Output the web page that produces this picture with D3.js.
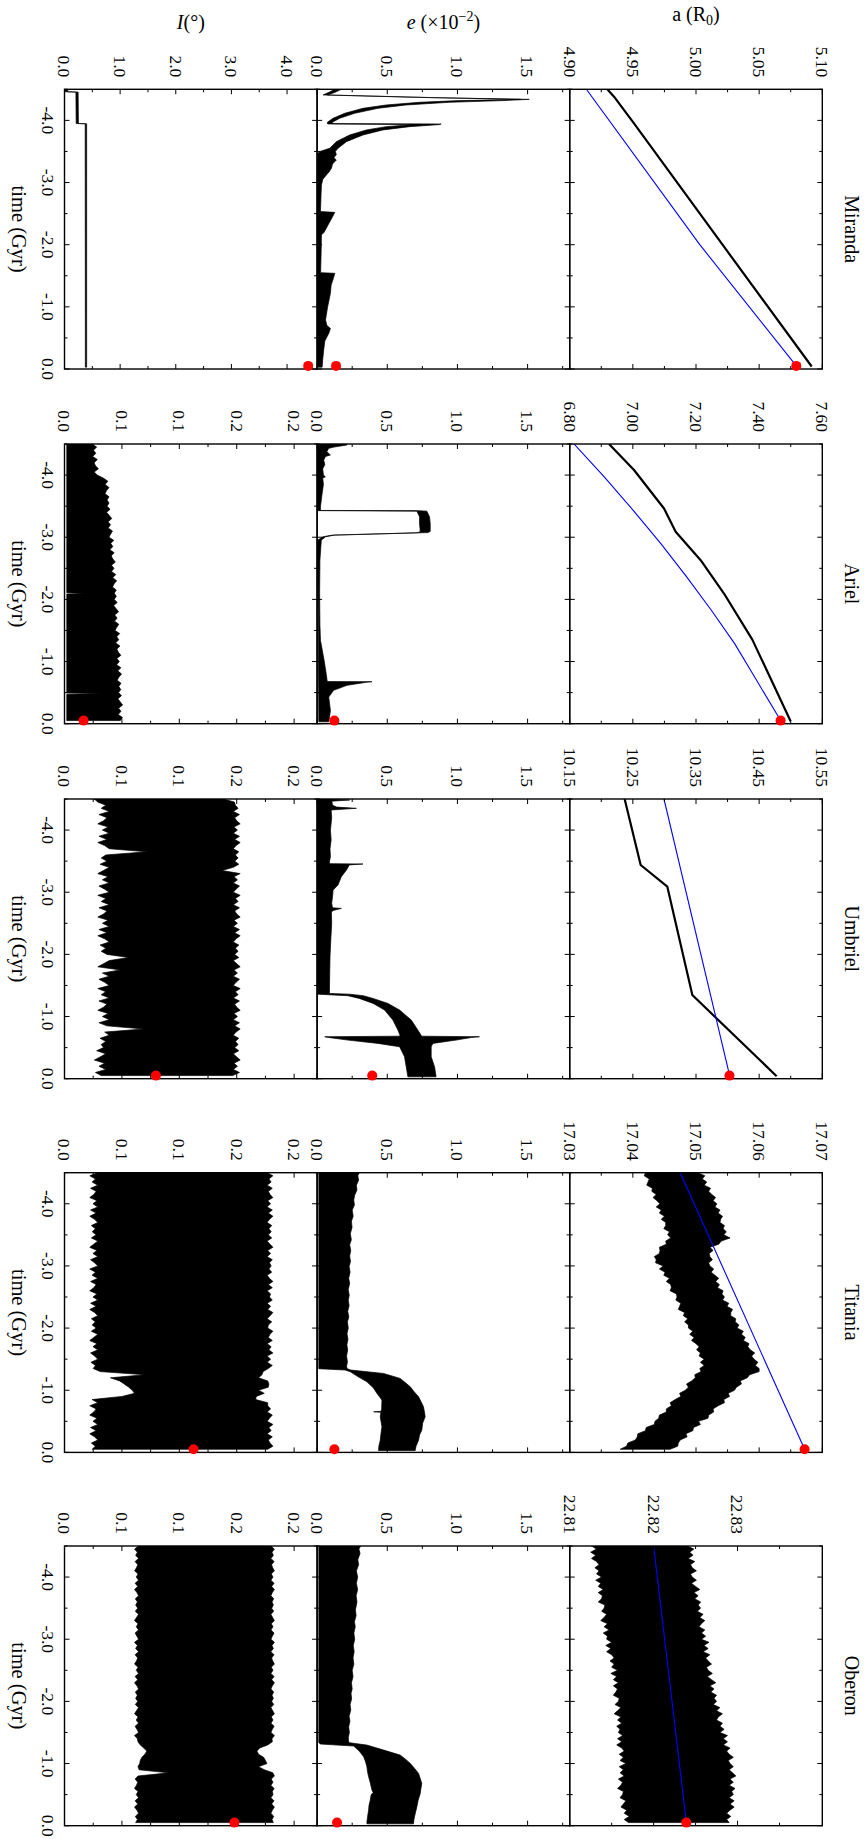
<!DOCTYPE html>
<html>
<head>
<meta charset="utf-8">
<script src="https://cdn.jsdelivr.net/npm/d3@7"></script>
<style>
  html, body { margin: 0; padding: 0; background: #fff; }
  svg { display: block; }
</style>
</head>
<body>
<svg id="fig" width="868" height="1839"></svg>
<script>
// ---------------------------------------------------------------------------
// Orbital evolution of the five major Uranian satellites over the last 4.5 Gyr:
// semi-major axis a (in R0), eccentricity e (x10^-2) and inclination I (deg).
// The figure is laid out in landscape (1839 x 868) and turned a quarter turn.
// ---------------------------------------------------------------------------

const moons = ["Miranda", "Ariel", "Umbriel", "Titania", "Oberon"];

// time axis (Gyr)
const timeDomain = [-4.5, 0];
const timeMajor = [-4, -3, -2, -1, 0];
const timeMinor = [-4.5, -3.5, -2.5, -1.5, -0.5];
const timeLabels = ["-4.0", "-3.0", "-2.0", "-1.0", "0.0"];
const presentTime = -0.05;

// semi-major axis axes
const aDomains = [[4.90, 5.10], [6.80, 7.60], [10.15, 10.55], [17.03, 17.07], [22.81, 22.8401]];
const aMajor = [
  [4.90, 4.95, 5.00, 5.05, 5.10],
  [6.80, 7.00, 7.20, 7.40, 7.60],
  [10.15, 10.25, 10.35, 10.45, 10.55],
  [17.03, 17.04, 17.05, 17.06, 17.07],
  [22.81, 22.82, 22.83]
];
const aMinor = [
  [4.925, 4.975, 5.025, 5.075],
  [6.90, 7.10, 7.30, 7.50],
  [10.20, 10.30, 10.40, 10.50],
  [17.035, 17.045, 17.055, 17.065],
  [22.815, 22.825, 22.835]
];
const aLabels = [
  ["4.90", "4.95", "5.00", "5.05", "5.10"],
  ["6.80", "7.00", "7.20", "7.40", "7.60"],
  ["10.15", "10.25", "10.35", "10.45", "10.55"],
  ["17.03", "17.04", "17.05", "17.06", "17.07"],
  ["22.81", "22.82", "22.83"]
];

// eccentricity axis (x10^-2), shared by all moons
const eDomain = [0, 1.8];
const eMajor = [0, 0.5, 1.0, 1.5];
const eMinor = [0.25, 0.75, 1.25, 1.75];
const eLabels = ["0.0", "0.5", "1.0", "1.5"];

// inclination axes (deg)
const iDomains = [[0, 4.54], [0, 0.22], [0, 0.22], [0, 0.22], [0, 0.22]];
const iMajorMiranda = [0, 1, 2, 3, 4];
const iMinorMiranda = [0.5, 1.5, 2.5, 3.5];
const iLabelsMiranda = ["0.0", "1.0", "2.0", "3.0", "4.0"];
const iMajorOuter = [0, 0.05, 0.10, 0.15, 0.20];
const iMinorOuter = [0.025, 0.075, 0.125, 0.175];
const iLabelsOuter = ["0.0", "0.1", "0.1", "0.2", "0.2"];

// present-day observed values (red markers)
const presentA = [5.0794, 7.468, 10.403, 17.0672, 22.8239];
const presentE = [0.135, 0.123, 0.393, 0.123, 0.142];
const presentI = [4.38, 0.0166, 0.0796, 0.1124, 0.148];

// sampling times of the densely oscillating envelopes (Gyr)
const noiseTimes = [
  -4.5, -4.45, -4.4, -4.35, -4.3, -4.25, -4.2, -4.15, -4.1, -4.05,
  -4.0, -3.95, -3.9, -3.85, -3.8, -3.75, -3.7, -3.65, -3.6, -3.55,
  -3.5, -3.45, -3.4, -3.35, -3.3, -3.25, -3.2, -3.15, -3.1, -3.05,
  -3.0, -2.95, -2.9, -2.85, -2.8, -2.75, -2.7, -2.65, -2.6, -2.55,
  -2.5, -2.45, -2.4, -2.35, -2.3, -2.25, -2.2, -2.15, -2.1, -2.05,
  -2.0, -1.95, -1.9, -1.85, -1.8, -1.75, -1.7, -1.65, -1.6, -1.55,
  -1.5, -1.45, -1.4, -1.35, -1.3, -1.25, -1.2, -1.15, -1.1, -1.05,
  -1.0, -0.95, -0.9, -0.85, -0.8, -0.75, -0.7, -0.65, -0.6, -0.55,
  -0.5, -0.45, -0.4, -0.35, -0.3, -0.25, -0.2, -0.15, -0.1, -0.05];

// ----- semi-major axis: simulated (black) and tidal-only (blue) tracks -----
const mirandaA = [[-4.5, 4.9298], [-4.382, 4.9351], [-3.953, 4.9509], [-2.0, 5.021], [-0.04, 5.0916]];
const mirandaTide = [[-4.5, 4.9132], [-2.0, 5.003], [presentTime, 5.0794]];

const arielA = [[-4.5, 6.9245], [-4.081, 7.0037], [-3.463, 7.0987], [-3.088, 7.1356], [-2.631, 7.2148],
  [-2.094, 7.2887], [-1.353, 7.3784], [-0.04, 7.4997]];
const arielTide = [[-4.5, 6.8137], [-3.974, 6.9087], [-3.437, 7.0005], [-2.9, 7.0881], [-2.363, 7.1704],
  [-1.826, 7.2486], [-1.288, 7.3224], [-0.751, 7.3857], [presentTime, 7.4681]];

const umbrielA = [[-4.5, 10.237], [-3.438, 10.2624], [-3.089, 10.3046], [-1.346, 10.3442], [-0.04, 10.4777]];
const umbrielTide = [[-4.5, 10.2993], [presentTime, 10.4033]];

const titaniaAUpper = [
  17.0503, 17.0514, 17.0510, 17.0517, 17.0513, 17.0523, 17.0520, 17.0525, 17.0531, 17.0527,
  17.0533, 17.0530, 17.0538, 17.0535, 17.0542, 17.0539, 17.0538, 17.0545, 17.0543, 17.0548,
  17.0544, 17.0554, 17.0540, 17.0536, 17.0522, 17.0527, 17.0521, 17.0522, 17.0526, 17.0520,
  17.0522, 17.0528, 17.0524, 17.0530, 17.0536, 17.0531, 17.0537, 17.0534, 17.0543, 17.0541,
  17.0545, 17.0542, 17.0552, 17.0549, 17.0558, 17.0555, 17.0555, 17.0563, 17.0562, 17.0568,
  17.0565, 17.0575, 17.0572, 17.0578, 17.0575, 17.0584, 17.0582, 17.0586, 17.0593, 17.0588,
  17.0592, 17.0598, 17.0594, 17.0600, 17.0600, 17.0585, 17.0581, 17.0570, 17.0572, 17.0564,
  17.0561, 17.0551, 17.0553, 17.0544, 17.0545, 17.0535, 17.0527, 17.0528, 17.0520, 17.0519,
  17.0504, 17.0507, 17.0496, 17.0495, 17.0484, 17.0486, 17.0475, 17.0472, 17.0471, 17.0459];
const titaniaALower = [
  17.0420, 17.0418, 17.0426, 17.0424, 17.0422, 17.0431, 17.0430, 17.0437, 17.0432, 17.0438,
  17.0443, 17.0437, 17.0445, 17.0442, 17.0450, 17.0445, 17.0452, 17.0452, 17.0449, 17.0458,
  17.0455, 17.0460, 17.0452, 17.0453, 17.0442, 17.0443, 17.0442, 17.0434, 17.0437, 17.0436,
  17.0448, 17.0442, 17.0451, 17.0449, 17.0458, 17.0453, 17.0460, 17.0461, 17.0459, 17.0469,
  17.0470, 17.0468, 17.0476, 17.0474, 17.0472, 17.0482, 17.0480, 17.0487, 17.0482, 17.0488,
  17.0488, 17.0495, 17.0490, 17.0497, 17.0493, 17.0500, 17.0505, 17.0501, 17.0507, 17.0505,
  17.0513, 17.0507, 17.0513, 17.0506, 17.0508, 17.0498, 17.0499, 17.0493, 17.0485, 17.0488,
  17.0483, 17.0474, 17.0476, 17.0467, 17.0459, 17.0461, 17.0453, 17.0453, 17.0442, 17.0441,
  17.0435, 17.0434, 17.0421, 17.0420, 17.0408, 17.0407, 17.0404, 17.0392, 17.0390, 17.0380];
const titaniaTide = [[-4.5, 17.0475], [presentTime, 17.0672]];

const oberonAUpper = [
  22.8240, 22.8248, 22.8243, 22.8247, 22.8241, 22.8249, 22.8244, 22.8246, 22.8251, 22.8244,
  22.8246, 22.8251, 22.8245, 22.8250, 22.8255, 22.8248, 22.8253, 22.8249, 22.8256, 22.8253,
  22.8256, 22.8252, 22.8259, 22.8255, 22.8261, 22.8257, 22.8254, 22.8261, 22.8257, 22.8262,
  22.8257, 22.8266, 22.8260, 22.8265, 22.8259, 22.8267, 22.8262, 22.8265, 22.8269, 22.8263,
  22.8265, 22.8270, 22.8264, 22.8269, 22.8274, 22.8267, 22.8272, 22.8268, 22.8275, 22.8272,
  22.8275, 22.8271, 22.8279, 22.8275, 22.8282, 22.8277, 22.8275, 22.8282, 22.8279, 22.8284,
  22.8279, 22.8288, 22.8283, 22.8288, 22.8283, 22.8291, 22.8287, 22.8290, 22.8295, 22.8289,
  22.8291, 22.8295, 22.8290, 22.8294, 22.8298, 22.8291, 22.8295, 22.8290, 22.8297, 22.8293,
  22.8295, 22.8290, 22.8296, 22.8291, 22.8296, 22.8291, 22.8287, 22.8292, 22.8287, 22.8290];
const oberonALower = [
  22.8126, 22.8132, 22.8125, 22.8131, 22.8126, 22.8132, 22.8135, 22.8130, 22.8135, 22.8132,
  22.8138, 22.8131, 22.8137, 22.8134, 22.8140, 22.8134, 22.8139, 22.8138, 22.8134, 22.8142,
  22.8141, 22.8138, 22.8144, 22.8141, 22.8137, 22.8145, 22.8141, 22.8147, 22.8140, 22.8145,
  22.8144, 22.8150, 22.8143, 22.8149, 22.8144, 22.8150, 22.8153, 22.8148, 22.8153, 22.8150,
  22.8157, 22.8149, 22.8156, 22.8152, 22.8158, 22.8152, 22.8157, 22.8155, 22.8152, 22.8159,
  22.8158, 22.8154, 22.8161, 22.8157, 22.8153, 22.8161, 22.8157, 22.8162, 22.8156, 22.8160,
  22.8158, 22.8163, 22.8157, 22.8162, 22.8156, 22.8162, 22.8165, 22.8159, 22.8164, 22.8160,
  22.8167, 22.8159, 22.8164, 22.8160, 22.8165, 22.8158, 22.8163, 22.8161, 22.8157, 22.8164,
  22.8163, 22.8160, 22.8167, 22.8164, 22.8161, 22.8168, 22.8165, 22.8171, 22.8165, 22.8170];
const oberonTide = [[-4.5, 22.82], [presentTime, 22.8239]];

// ----- eccentricity envelopes (upper / lower edge of the oscillation) -----
const mirandaEHi = [[-4.5,0.173],[-4.452,0.128],[-4.409,0.076],[-4.366,0.84],[-4.338,1.512],[-4.318,1.32],
  [-4.291,0.943],[-4.248,0.635],[-4.194,0.434],[-4.114,0.268],[-4.034,0.161],[-3.969,0.109],[-3.948,0.11],
  [-3.942,0.884],[-3.932,0.872],[-3.899,0.659],[-3.846,0.469],[-3.765,0.327],[-3.658,0.209],[-3.551,0.149],
  [-3.5,0.13],[-3.45,0.137],[-3.4,0.12],[-3.363,0.137],[-3.3,0.11],[-3.229,0.102],[-3.17,0.085],[-3.122,0.066],
  [-3.05,0.04],[-2.961,0.031],[-2.8,0.028],[-2.6,0.025],[-2.532,0.024],[-2.52,0.126],[-2.45,0.11],[-2.318,0.078],
  [-2.2,0.05],[-2.157,0.031],[-2.021,0.03],[-1.8,0.028],[-1.55,0.025],[-1.539,0.126],[-1.45,0.115],[-1.35,0.1],
  [-1.217,0.095],[-1.0,0.075],[-0.788,0.06],[-0.7,0.07],[-0.653,0.095],[-0.573,0.083],[-0.45,0.055],
  [-0.305,0.047],[-0.15,0.04],[-0.03,0.036]];
const mirandaELo = [[-4.5,0.126],[-4.452,0.085],[-4.409,0.043],[-4.366,0.80],[-4.338,1.45],[-4.318,1.01],
  [-4.291,0.73],[-4.248,0.493],[-4.194,0.327],[-4.114,0.197],[-4.034,0.114],[-3.969,0.073],[-3.948,0.073],
  [-3.942,0.08],[-3.932,0.683],[-3.899,0.493],[-3.846,0.351],[-3.765,0.232],[-3.658,0.137],[-3.551,0.09],
  [-3.5,0.02],[-3.47,0.006],[-0.03,0.004]];

const arielEHi = [[-4.5,0.21],[-4.484,0.213],[-4.45,0.12],[-4.43,0.083],[-4.38,0.07],[-4.34,0.085],[-4.323,0.095],
  [-4.3,0.06],[-4.242,0.047],[-4.17,0.055],[-4.1,0.04],[-4.0,0.045],[-3.974,0.059],[-3.95,0.04],[-3.85,0.045],
  [-3.705,0.036],[-3.6,0.03],[-3.49,0.024],[-3.431,0.024],[-3.428,0.723],[-3.42,0.782],[-3.329,0.801],
  [-3.222,0.806],[-3.093,0.806],[-3.075,0.79],[-3.071,0.735],[-3.034,0.125],[-3.007,0.06],[-2.953,0.03],
  [-2.631,0.02],[-2.094,0.018],[-1.6,0.02],[-1.342,0.024],[-1.02,0.05],[-0.8,0.065],[-0.698,0.071],
  [-0.678,0.075],[-0.676,0.391],[-0.666,0.35],[-0.617,0.213],[-0.537,0.118],[-0.429,0.083],[-0.3,0.09],
  [-0.214,0.095],[-0.1,0.088],[-0.03,0.083]];
const arielELo = [[-4.5,0.005],[-3.428,0.005],[-3.42,0.711],[-3.329,0.73],[-3.222,0.73],[-3.093,0.735],
  [-3.075,0.72],[-3.071,0.70],[-3.034,0.11],[-3.007,0.04],[-2.953,0.005],[-0.03,0.012]];

const umbrielEHi = [[-4.5,0.09],[-4.484,0.232],[-4.465,0.105],[-4.4,0.11],[-4.37,0.14],[-4.35,0.28],[-4.323,0.1],
  [-4.2,0.104],[-4.108,0.1],[-4.0,0.095],[-3.84,0.1],[-3.7,0.092],[-3.572,0.095],[-3.491,0.088],[-3.46,0.09],
  [-3.454,0.327],[-3.44,0.23],[-3.357,0.209],[-3.25,0.173],[-3.18,0.16],[-3.116,0.149],[-3.035,0.114],
  [-2.93,0.11],[-2.821,0.104],[-2.75,0.11],[-2.74,0.173],[-2.71,0.12],[-2.687,0.102],[-2.499,0.104],
  [-2.25,0.098],[-1.962,0.092],[-1.7,0.09],[-1.426,0.088],[-1.372,0.088],[-1.36,0.232],[-1.335,0.33],
  [-1.292,0.398],[-1.211,0.505],[-1.104,0.588],[-0.943,0.671],[-0.782,0.718],[-0.702,0.74],[-0.684,0.745],
  [-0.675,1.157],[-0.664,1.10],[-0.621,0.99],[-0.568,0.825],[-0.514,0.813],[-0.353,0.813],[-0.192,0.837],[-0.03,0.848]];
const umbrielELo = [[-4.5,0.005],[-1.36,0.005],[-1.335,0.22],[-1.292,0.30],[-1.211,0.40],[-1.104,0.481],
  [-0.943,0.54],[-0.782,0.576],[-0.702,0.59],[-0.684,0.59],[-0.675,0.0545],[-0.664,0.08],[-0.621,0.22],
  [-0.568,0.434],[-0.514,0.588],[-0.353,0.623],[-0.192,0.635],[-0.03,0.647]];

const titaniaEHi = [[-4.5,0.30],[-4.45,0.29],[-4.38,0.296],[-4.3,0.28],[-4.22,0.284],[-4.14,0.268],[-4.06,0.261],
  [-3.98,0.266],[-3.9,0.25],[-3.8,0.257],[-3.72,0.245],[-3.62,0.249],[-3.52,0.237],[-3.42,0.244],[-3.34,0.232],
  [-3.25,0.24],[-3.16,0.232],[-3.07,0.238],[-2.99,0.228],[-2.9,0.235],[-2.8,0.225],[-2.72,0.232],[-2.62,0.222],
  [-2.53,0.229],[-2.45,0.222],[-2.36,0.228],[-2.27,0.218],[-2.18,0.226],[-2.1,0.216],[-2.0,0.222],[-1.91,0.213],
  [-1.82,0.22],[-1.73,0.212],[-1.65,0.218],[-1.55,0.21],[-1.46,0.216],[-1.38,0.21],[-1.346,0.215],[-1.325,0.24],
  [-1.27,0.474],[-1.19,0.592],[-1.12,0.63],[-1.056,0.664],[-0.98,0.69],[-0.895,0.723],[-0.82,0.74],[-0.734,0.758],
  [-0.65,0.765],[-0.573,0.77],[-0.47,0.752],[-0.358,0.746],[-0.28,0.73],[-0.197,0.723],[-0.1,0.705],[-0.03,0.699]];
const titaniaELo = [[-4.5,0.012],[-1.346,0.012],[-1.325,0.20],[-1.297,0.237],[-1.22,0.29],[-1.136,0.355],
  [-1.04,0.40],[-0.948,0.427],[-0.895,0.445],[-0.841,0.462],[-0.7,0.46],[-0.66,0.455],[-0.653,0.403],
  [-0.645,0.455],[-0.573,0.45],[-0.412,0.462],[-0.3,0.455],[-0.197,0.45],[-0.1,0.44],[-0.03,0.438]];

const oberonEHi = [[-4.5,0.31],[-4.45,0.298],[-4.38,0.306],[-4.28,0.29],[-4.2,0.296],[-4.1,0.28],[-4.0,0.289],
  [-3.9,0.28],[-3.8,0.289],[-3.7,0.278],[-3.6,0.284],[-3.47,0.273],[-3.38,0.278],[-3.28,0.266],[-3.2,0.272],
  [-3.1,0.262],[-3.0,0.268],[-2.9,0.258],[-2.8,0.264],[-2.7,0.256],[-2.6,0.262],[-2.5,0.25],[-2.4,0.256],
  [-2.3,0.245],[-2.2,0.25],[-2.13,0.242],[-2.04,0.246],[-1.95,0.235],[-1.86,0.24],[-1.76,0.228],[-1.68,0.234],
  [-1.59,0.225],[-1.5,0.23],[-1.42,0.222],[-1.351,0.225],[-1.335,0.23],[-1.297,0.355],[-1.217,0.474],
  [-1.136,0.592],[-1.07,0.63],[-1.002,0.664],[-0.92,0.695],[-0.841,0.723],[-0.76,0.735],[-0.68,0.746],
  [-0.6,0.74],[-0.519,0.735],[-0.41,0.72],[-0.305,0.711],[-0.2,0.70],[-0.1,0.69],[-0.03,0.687]];
const oberonELo = [[-4.5,0.012],[-1.335,0.012],[-1.314,0.024],[-1.281,0.261],[-1.2,0.30],[-1.109,0.332],
  [-1.03,0.345],[-0.948,0.355],[-0.86,0.36],[-0.788,0.367],[-0.68,0.38],[-0.573,0.391],[-0.53,0.40],
  [-0.5,0.385],[-0.412,0.379],[-0.33,0.37],[-0.251,0.367],[-0.15,0.36],[-0.063,0.355],[-0.03,0.355]];

// ----- inclination envelopes -----
const mirandaIHi = [[-4.5,0.06],[-4.46,0.06],[-4.455,0.245],[-3.95,0.25],[-3.945,0.398],[-0.03,0.398]];
const mirandaILo = [[-4.5,0.01],[-4.46,0.01],[-4.455,0.205],[-3.95,0.21],[-3.945,0.372],[-0.03,0.375]];

const arielIUpper = [
  .024, .028, .0252, .0273, .0245, .0286, .0258, .027, .0295, .0259,
  .0284, .034, .0378, .0353, .0388, .0366, .0353, .0388, .037, .0388,
  .037, .0397, .0367, .039, .0412, .0379, .0401, .038, .0418, .0401,
  .0387, .0429, .0403, .0421, .0395, .0433, .0407, .0421, .0443, .0409,
  .0431, .0409, .0447, .042, .0454, .0432, .0418, .0451, .0433, .0451,
  .0433, .0459, .0428, .045, .0471, .0437, .0458, .0436, .0473, .0455,
  .044, .0481, .0455, .0472, .0445, .0483, .0456, .0469, .0491, .0456,
  .0477, .0454, .0491, .0464, .0497, .0474, .0459, .0492, .0473, .049,
  .0471, .0496, .0465, .0486, .0506, .0471, .0492, .0468, .0505, .0486];
const arielILo = [[-4.5,0.002],[-2.105,0.002],[-2.095,0.018],[-2.085,0.002],[-0.495,0.002],[-0.485,0.034],
  [-0.475,0.002],[-0.05,0.002]];

const umbrielIUpper = [
  .1385, .148, .1488, .1512, .147, .1524, .1482, .150, .153, .1476,
  .1506, .147, .1524, .1482, .153, .1494, .147, .1518, .1488, .1512,
  .1482, .1518, .147, .1371, .153, .1476, .1506, .147, .1524, .1494,
  .147, .153, .1488, .1512, .147, .1524, .1482, .150, .153, .1476,
  .1506, .147, .1524, .1482, .153, .1494, .147, .1518, .1488, .1512,
  .1482, .1518, .147, .150, .153, .1476, .1506, .147, .1524, .1494,
  .147, .153, .1488, .1512, .147, .1524, .1482, .150, .153, .1476,
  .1506, .147, .1524, .1482, .153, .1494, .147, .1518, .1488, .1512,
  .1482, .1518, .147, .150, .153, .1476, .1506, .147, .1524, .1465];
const umbrielILower = [
  .026, .029, .036, .032, .039, .030, .037, .034, .029, .038,
  .033, .039, .030, .037, .029, .035, .039, .0717, .036, .032,
  .037, .031, .039, .034, .029, .038, .033, .039, .030, .035,
  .039, .029, .036, .032, .039, .030, .037, .034, .029, .038,
  .033, .039, .030, .037, .029, .035, .039, .031, .036, .032,
  .037, .0558, .039, .034, .029, .0485, .033, .039, .030, .035,
  .039, .029, .036, .032, .039, .030, .037, .034, .029, .038,
  .033, .039, .030, .037, .0688, .035, .039, .031, .036, .032,
  .034, .028, .036, .031, .026, .035, .030, .036, .027, .032];

const titaniaIUpper = [
  .1765, .1815, .1780, .1800, .1765, .1810, .1775, .1790, .1815, .1770,
  .1795, .1765, .1810, .1775, .1815, .1785, .1765, .1805, .1780, .1800,
  .1775, .1805, .1765, .1790, .1815, .1770, .1795, .1765, .1810, .1785,
  .1800, .1780, .1805, .1765, .1785, .1815, .1775, .1810, .1765, .1795,
  .1785, .1810, .1765, .1795, .1770, .1815, .1790, .1765, .1805, .1775,
  .1770, .1815, .1790, .1775, .1810, .1765, .1800, .1780, .1815, .1765,
  .1795, .1765, .1810, .1775, .1730, .1720, .1690, .1770, .1780, .1775,
  .1690, .1740, .1670, .1665, .1770, .1770, .1795, .1765, .1810, .1785,
  .1765, .1815, .1780, .1800, .1765, .1810, .1775, .1790, .1815, .1770];
const titaniaILower = [
  .029, .022, .027, .024, .029, .0227, .0276, .0255, .022, .0283,
  .0248, .029, .0227, .0276, .022, .0262, .029, .0234, .0269, .0241,
  .0276, .0234, .029, .0255, .022, .0283, .0248, .029, .0227, .0262,
  .029, .022, .027, .024, .029, .0227, .0276, .0255, .022, .0283,
  .0248, .029, .0227, .0276, .022, .0262, .029, .0234, .0269, .0241,
  .0276, .0234, .029, .0255, .022, .0283, .0248, .029, .0227, .0262,
  .029, .023, .027, .025, .031, .070, .040, .048, .052, .056,
  .059, .061, .050, .024, .029, .022, .0276, .0255, .022, .0283,
  .0248, .029, .0227, .0276, .022, .0262, .029, .0234, .0269, .0241];

const oberonIUpper = [
  .1798, .1828, .1807, .1819, .1798, .1825, .1804, .1813, .1828, .1801,
  .1816, .1798, .1825, .1804, .1828, .1810, .1798, .1822, .1807, .1819,
  .1804, .1822, .1798, .1813, .1828, .1801, .1816, .1798, .1825, .1810,
  .1798, .1828, .1807, .1819, .1798, .1825, .1804, .1813, .1828, .1801,
  .1816, .1798, .1825, .1804, .1828, .1810, .1798, .1822, .1807, .1819,
  .1804, .1822, .1798, .1813, .1828, .1801, .1816, .1798, .1825, .1810,
  .1798, .1828, .1807, .1810, .1770, .1700, .1676, .1690, .1734, .1750,
  .1763, .1690, .1740, .1815, .1828, .1801, .1816, .1798, .1825, .1810,
  .1816, .1798, .1825, .1804, .1828, .1810, .1798, .1822, .1807, .1819];
const oberonILower = [
  .0645, .061, .0635, .062, .0645, .0615, .0638, .0627, .061, .0641,
  .0625, .0645, .0615, .0638, .061, .0631, .0645, .0617, .0635, .062,
  .0638, .0617, .0645, .0627, .061, .0641, .0625, .0645, .0615, .0631,
  .0645, .061, .0635, .062, .0645, .0615, .0638, .0627, .061, .0641,
  .0625, .0645, .0615, .0638, .061, .0631, .0645, .0617, .0635, .062,
  .0638, .0617, .0645, .0627, .061, .0641, .0625, .0645, .0615, .0631,
  .0645, .061, .0635, .064, .066, .069, .0717, .070, .0674, .066,
  .0655, .064, .065, .0906, .064, .0615, .0638, .0627, .061, .0641,
  .0625, .0645, .0615, .0638, .061, .0631, .0645, .0617, .0635, .062];

// pair a sampled envelope with its sampling times
const onGrid = values => noiseTimes.map((t, j) => [t, values[j]]);

// per-moon lookups
const aLine = [mirandaA, arielA, umbrielA, null, null];
const aBand = [null, null, null,
  [onGrid(titaniaAUpper), onGrid(titaniaALower)],
  [onGrid(oberonAUpper), onGrid(oberonALower)]];
const tideLine = [mirandaTide, arielTide, umbrielTide, titaniaTide, oberonTide];
const eBand = [[mirandaEHi, mirandaELo], [arielEHi, arielELo], [umbrielEHi, umbrielELo],
  [titaniaEHi, titaniaELo], [oberonEHi, oberonELo]];
const iBand = [[mirandaIHi, mirandaILo], [onGrid(arielIUpper), arielILo],
  [onGrid(umbrielIUpper), onGrid(umbrielILower)],
  [onGrid(titaniaIUpper), onGrid(titaniaILower)],
  [onGrid(oberonIUpper), onGrid(oberonILower)]];

// ---------------------------------------------------------------------------
// layout (landscape coordinates)
const W = 868;
const colLeft = [89.3, 444, 799, 1172.7, 1546];
const colWidth = 279.7;
const rowTop = { a: 45.7, e: 298.3, i: 550.9 };
const rowHeight = 252.6;
const serif = '"Liberation Serif","Times New Roman",Times,serif';

const svg = d3.select("#fig");
const root = svg.append("g").attr("transform", `translate(${W},0) rotate(90)`);
const defs = svg.append("defs");

function drawBand(g, xs, ys, hi, lo) {
  const pts = hi.map(d => [xs(d[0]), ys(d[1])])
    .concat(lo.slice().reverse().map(d => [xs(d[0]), ys(d[1])]));
  g.append("path")
    .attr("d", d3.line()(pts) + "Z")
    .attr("fill", "#000")
    .attr("stroke", "#000")
    .attr("stroke-width", 0.7)
    .attr("stroke-linejoin", "round");
}

function drawLine(g, xs, ys, data, color, width) {
  g.append("path")
    .attr("d", d3.line().x(d => xs(d[0])).y(d => ys(d[1]))(data))
    .attr("fill", "none")
    .attr("stroke", color)
    .attr("stroke-width", width)
    .attr("stroke-linejoin", "round");
}

function drawFrame(g, xs, ys, x0, x1, y0, y1, vMajor, vMinor) {
  const tk = g.append("g").attr("stroke", "#000").attr("stroke-width", 1);
  const big = 5, small = 3;
  const seg = (xa, ya, xb, yb) => tk.append("line")
    .attr("x1", xa).attr("y1", ya).attr("x2", xb).attr("y2", yb);
  timeMajor.forEach(t => { seg(xs(t), y1, xs(t), y1 - big); seg(xs(t), y0, xs(t), y0 + big); });
  timeMinor.forEach(t => { seg(xs(t), y1, xs(t), y1 - small); seg(xs(t), y0, xs(t), y0 + small); });
  vMajor.forEach(v => { seg(x0, ys(v), x0 + big, ys(v)); seg(x1, ys(v), x1 - big, ys(v)); });
  vMinor.forEach(v => { seg(x0, ys(v), x0 + small, ys(v)); seg(x1, ys(v), x1 - small, ys(v)); });
  g.append("rect")
    .attr("x", x0).attr("y", y0).attr("width", x1 - x0).attr("height", y1 - y0)
    .attr("fill", "none").attr("stroke", "#000").attr("stroke-width", 1.4);
}

function valueLabels(g, ys, x0, vMajor, labels) {
  g.append("g").selectAll("text").data(vMajor).join("text")
    .attr("x", x0 - 12).attr("y", d => ys(d))
    .attr("dy", "0.35em")
    .attr("text-anchor", "end")
    .attr("font-family", serif).attr("font-size", 17.5)
    .text((d, j) => labels[j]);
}

moons.forEach((name, k) => {
  const x0 = colLeft[k], x1 = x0 + colWidth;
  const xs = d3.scaleLinear(timeDomain, [x0, x1]);
  const col = root.append("g");

  const rows = [
    { key: "a", domain: aDomains[k], major: aMajor[k], minor: aMinor[k], labels: aLabels[k] },
    { key: "e", domain: eDomain, major: eMajor, minor: eMinor, labels: eLabels },
    { key: "i", domain: iDomains[k],
      major: k === 0 ? iMajorMiranda : iMajorOuter,
      minor: k === 0 ? iMinorMiranda : iMinorOuter,
      labels: k === 0 ? iLabelsMiranda : iLabelsOuter }
  ];

  rows.forEach(r => {
    const y0 = rowTop[r.key], y1 = y0 + rowHeight;
    const ys = d3.scaleLinear(r.domain, [y1, y0]);
    const clipId = `clip-${k}-${r.key}`;
    defs.append("clipPath").attr("id", clipId)
      .append("rect").attr("x", x0).attr("y", y0).attr("width", colWidth).attr("height", rowHeight);
    const plot = col.append("g").attr("clip-path", `url(#${clipId})`);

    if (r.key === "a") {
      if (aLine[k]) drawLine(plot, xs, ys, aLine[k], "#000", 2.2);
      if (aBand[k]) drawBand(plot, xs, ys, aBand[k][0], aBand[k][1]);
      drawLine(plot, xs, ys, tideLine[k], "#0000ff", 1.1);
    } else if (r.key === "e") {
      drawBand(plot, xs, ys, eBand[k][0], eBand[k][1]);
    } else {
      drawBand(plot, xs, ys, iBand[k][0], iBand[k][1]);
    }

    drawFrame(col, xs, ys, x0, x1, y0, y1, r.major, r.minor);
    valueLabels(col, ys, x0, r.major, r.labels);

    const present = r.key === "a" ? presentA[k] : r.key === "e" ? presentE[k] : presentI[k];
    col.append("circle")
      .attr("cx", xs(presentTime)).attr("cy", ys(present)).attr("r", 5)
      .attr("fill", "#ff0000");
  });

  // time tick labels and axis title under the inclination row
  const base = rowTop.i + rowHeight;
  col.append("g").selectAll("text").data(timeMajor).join("text")
    .attr("x", d => xs(d)).attr("y", base + 23)
    .attr("text-anchor", "middle")
    .attr("font-family", serif).attr("font-size", 17.5)
    .text((d, j) => timeLabels[j]);
  col.append("text")
    .attr("x", (x0 + x1) / 2).attr("y", 856)
    .attr("text-anchor", "middle")
    .attr("font-family", serif).attr("font-size", 20.5)
    .text("time (Gyr)");

  // satellite name above the column
  col.append("text")
    .attr("x", (x0 + x1) / 2).attr("y", 23)
    .attr("text-anchor", "middle")
    .attr("font-family", serif).attr("font-size", 20)
    .text(name);
});

// row titles, left of the first column
function rowTitle(yCenter, xBase) {
  return root.append("text")
    .attr("transform", `translate(${xBase},${yCenter}) rotate(-90)`)
    .attr("text-anchor", "middle")
    .attr("font-family", serif).attr("font-size", 20);
}
const tA = rowTitle(rowTop.a + rowHeight / 2, 21);
tA.append("tspan").text("a (R");
tA.append("tspan").attr("dy", 4).attr("font-size", 14).text("0");
tA.append("tspan").attr("dy", -4).text(")");

const tE = rowTitle(rowTop.e + rowHeight / 2, 29);
tE.append("tspan").attr("font-style", "italic").text("e");
tE.append("tspan").text(" (\u00d710");
tE.append("tspan").attr("dy", -8).attr("font-size", 14).text("\u22122");
tE.append("tspan").attr("dy", 8).text(")");

const tI = rowTitle(rowTop.i + rowHeight / 2, 29);
tI.append("tspan").attr("font-style", "italic").text("I");
tI.append("tspan").text("(\u00b0)");
</script>
</body>
</html>
